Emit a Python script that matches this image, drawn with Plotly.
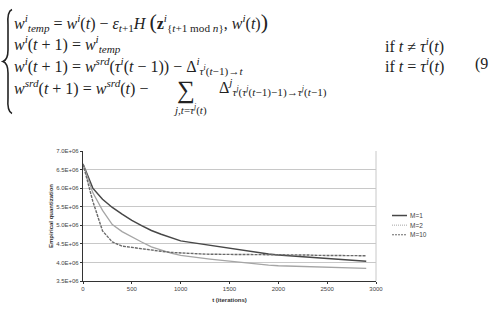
import plotly.graph_objects as go

# ---- data ----
t_iter = [0, 100, 200, 300, 400, 500, 600, 700, 800, 900, 1000, 1100, 1200, 1300, 1400,
          1500, 1600, 1700, 1800, 1900, 2000, 2100, 2200, 2300, 2400, 2500, 2600, 2700, 2800, 2900]
m1 = [6.65e6, 6.00e6, 5.70e6, 5.48e6, 5.30e6, 5.13e6, 4.99e6, 4.86e6, 4.76e6, 4.66e6,
      4.58e6, 4.54e6, 4.50e6, 4.46e6, 4.43e6, 4.39e6, 4.35e6, 4.31e6, 4.27e6, 4.23e6,
      4.20e6, 4.18e6, 4.16e6, 4.14e6, 4.12e6, 4.10e6, 4.08e6, 4.06e6, 4.04e6, 4.03e6]
m2 = [6.65e6, 5.88e6, 5.40e6, 5.02e6, 4.83e6, 4.68e6, 4.55e6, 4.42e6, 4.33e6, 4.25e6,
      4.19e6, 4.15e6, 4.12e6, 4.09e6, 4.06e6, 4.03e6, 4.00e6, 3.98e6, 3.95e6, 3.93e6,
      3.91e6, 3.90e6, 3.89e6, 3.88e6, 3.87e6, 3.87e6, 3.86e6, 3.85e6, 3.85e6, 3.84e6]
m10 = [6.65e6, 5.65e6, 4.85e6, 4.55e6, 4.44e6, 4.40e6, 4.36e6, 4.32e6, 4.30e6, 4.27e6,
       4.25e6, 4.24e6, 4.23e6, 4.22e6, 4.22e6, 4.22e6, 4.21e6, 4.21e6, 4.21e6, 4.21e6,
       4.21e6, 4.20e6, 4.20e6, 4.20e6, 4.19e6, 4.19e6, 4.19e6, 4.18e6, 4.18e6, 4.18e6]
series_names = ["M=1", "M=2", "M=10"]
y_tickvals = [3.5e6, 4.0e6, 4.5e6, 5.0e6, 5.5e6, 6.0e6, 6.5e6, 7.0e6]
y_ticktext = ["3.5E+06", "4.0E+06", "4.5E+06", "5.0E+06", "5.5E+06", "6.0E+06", "6.5E+06", "7.0E+06"]
x_tickvals = [0, 500, 1000, 1500, 2000, 2500, 3000]

# ---- layout helpers (pixel -> paper) ----
L, R, T, B = 83, 376, 151, 286
def px(x):
    return (x - L) / (R - L)
def py(y):
    return (B - y) / (B - T)

styles = [dict(color="#474747", width=1.5, dash="solid"),
          dict(color="#a5a5a5", width=1.3, dash="solid"),
          dict(color="#6a6a6a", width=1.4, dash="3px,1px")]
legend_styles = [dict(color="#474747", width=1.5, dash="solid"),
                 dict(color="#a5a5a5", width=1.0, dash="1px,1px"),
                 dict(color="#6a6a6a", width=1.0, dash="2px,1px")]

fig = go.Figure()
for name, ys, st in zip(series_names, [m1, m2, m10], styles):
    fig.add_trace(go.Scatter(x=t_iter, y=ys, mode="lines", name=name, line=st, showlegend=False))

tick_font = dict(family="Liberation Sans, Arial", size=6, color="#444")
fig.update_layout(
    width=489, height=314,
    margin=dict(l=L, r=489 - R, t=T, b=314 - B, pad=0),
    paper_bgcolor="white", plot_bgcolor="white",
    xaxis=dict(range=[0, 3000], tickvals=x_tickvals, showgrid=False, zeroline=False,
               showline=True, linecolor="#333", linewidth=1.2, ticks="outside", ticklen=2,
               tickcolor="#333", tickfont=tick_font,
               title=dict(text="<b>t (iterations)</b>", font=dict(family="Liberation Sans, Arial", size=6, color="#333"), standoff=6)),
    yaxis=dict(range=[3.5e6, 7.0e6], tickvals=y_tickvals, ticktext=y_ticktext, showgrid=True,
               gridcolor="#c8c8c8", gridwidth=1.2, zeroline=False, showline=True, linecolor="#333",
               linewidth=1.2, ticks="outside", ticklen=2, tickcolor="#333", tickfont=tick_font,
               title=dict(text="<b>Empirical quantization</b>", font=dict(family="Liberation Sans, Arial", size=6, color="#333"), standoff=2)),
)

# right border of plot area
fig.add_shape(type="line", xref="paper", yref="paper", x0=1, x1=1, y0=0, y1=1,
              line=dict(color="#c8c8c8", width=1))

# manual legend
for i, (name, st) in enumerate(zip(series_names, legend_styles)):
    yy = 218 + i * 10
    fig.add_shape(type="line", xref="paper", yref="paper", x0=px(392), x1=px(407),
                  y0=py(yy), y1=py(yy), line=st)
    fig.add_annotation(xref="paper", yref="paper", x=px(408), y=py(yy), text=name,
                       showarrow=False, xanchor="left", yanchor="middle",
                       font=dict(family="Liberation Sans, Arial", size=6.5, color="#444"))

# ---- equation (9) above the chart ----
eq_font = dict(family="Liberation Serif, Times New Roman, serif", size=16, color="#222")
def eq(x, y, text, size=16, anchor="left"):
    f = dict(eq_font)
    f["size"] = size
    fig.add_annotation(xref="paper", yref="paper", x=px(x), y=py(y), text=text,
                       showarrow=False, xanchor=anchor, yanchor="middle", font=f)

# brace
bx0, bx1 = 5, 12
ytop, ymid, ybot = 4, 58, 112
brace = (f"M {px(bx1)},{py(ytop)} Q {px(bx0+2)},{py(ytop+2)} {px(bx0+3)},{py(ytop+16)} "
         f"L {px(bx0+3)},{py(ymid-12)} Q {px(bx0+3)},{py(ymid-2)} {px(bx0-2)},{py(ymid)} "
         f"Q {px(bx0+3)},{py(ymid+2)} {px(bx0+3)},{py(ymid+12)} "
         f"L {px(bx0+3)},{py(ybot-16)} Q {px(bx0+2)},{py(ybot-2)} {px(bx1)},{py(ybot)}")
fig.add_shape(type="path", xref="paper", yref="paper", path=brace,
              line=dict(color="#222", width=1.6))

big = '<span style="font-size:22px">'
eq(12, 16, "<i>w</i><sup><i>i</i></sup><sub><i>temp</i></sub> = <i>w</i><sup><i>i</i></sup>(<i>t</i>) − "
           "<i>ε</i><sub><i>t</i>+1</sub><i>H</i> " + big + "(</span><b>z</b><sup><i>i</i></sup>"
           "<sub>{<i>t</i>+1 mod <i>n</i>}</sub>, <i>w</i><sup><i>i</i></sup>(<i>t</i>)" + big + ")</span>")
eq(12, 40, "<i>w</i><sup><i>i</i></sup>(<i>t</i> + 1) = <i>w</i><sup><i>i</i></sup><sub><i>temp</i></sub>")
eq(383, 41, "if <i>t</i> ≠ <i>τ</i><sup><i>i</i></sup>(<i>t</i>)")
eq(12, 63, "<i>w</i><sup><i>i</i></sup>(<i>t</i> + 1) = <i>w</i><sup><i>srd</i></sup>(<i>τ</i><sup><i>i</i></sup>(<i>t</i> − 1)) − "
           "Δ<sup><i>i</i></sup><sub><i>τ</i><sup><i>i</i></sup>(<i>t</i>−1)→<i>t</i></sub>")
eq(383, 62, "if <i>t</i> = <i>τ</i><sup><i>i</i></sup>(<i>t</i>)")
eq(473, 61, "(9")
eq(12, 85, "<i>w</i><sup><i>srd</i></sup>(<i>t</i> + 1) = <i>w</i><sup><i>srd</i></sup>(<i>t</i>) −")
eq(186, 88, "∑", size=25, anchor="center")
eq(190, 108, "<i>j</i>,<i>t</i>=<i>τ</i><sup><i>j</i></sup>(<i>t</i>)", size=11, anchor="center")
eq(217, 85, "Δ<sup><i>j</i></sup><sub><i>τ</i><sup><i>j</i></sup>(<i>τ</i><sup><i>j</i></sup>(<i>t</i>−1)−1)→<i>τ</i><sup><i>j</i></sup>(<i>t</i>−1)</sub>")

fig.write_html("out.html")
